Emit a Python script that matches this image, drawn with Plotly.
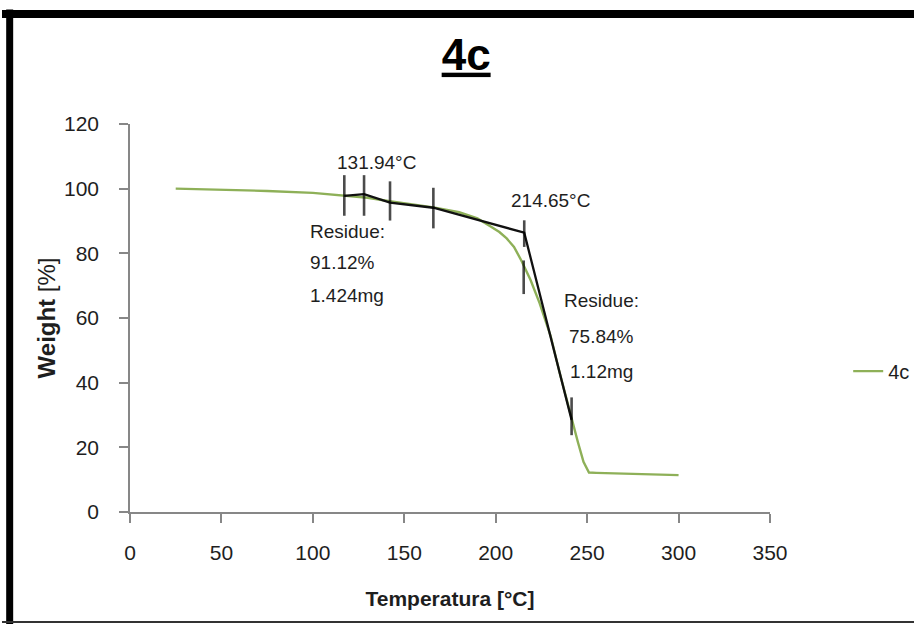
import plotly.graph_objects as go

# TGA curve for sample 4c
temperature = [25, 50, 75, 100, 117, 130, 142, 155, 166, 180, 190, 197, 202, 206,
               210, 214, 219, 224, 230, 235, 241, 245, 248, 251, 255, 270, 285, 300]
weight = [100.0, 99.7, 99.3, 98.7, 97.9, 97.2, 96.1, 95.1, 94.2, 92.7, 90.8, 88.4,
          86.6, 84.6, 82.0, 77.8, 71.8, 64.6, 54.5, 43.0, 29.8, 21.5, 15.5, 12.2,
          12.1, 11.9, 11.7, 11.4]

# Onset construction (tangent lines)
tangent_temp = [117.2, 128.0, 142.2, 165.9, 215.6, 241.5]
tangent_weight = [97.8, 98.3, 95.7, 94.1, 86.4, 28.5]

# Cursor marks placed on the curve
cursor_temp = [117.2, 128.0, 142.2, 165.9, 215.6, 215.3, 241.5]
cursor_weight = [97.9, 97.9, 96.2, 94.0, 86.1, 72.6, 29.6]

# Text annotations
onset_labels = ["131.94°C", "214.65°C"]
onset_temp = [134.9, 230.1]
onset_weight = [108.1, 96.2]

residue1_lines = ["Residue:", "91.12%", "1.424mg"]
residue1_temp = 97.5
residue1_weight = [86.9, 77.2, 67.1]

residue2_lines = ["Residue:", "75.84%", "1.12mg"]
residue2_temp = 258.1
residue2_weight = [65.3, 54.4, 43.5]

x_ticks = [0, 50, 100, 150, 200, 250, 300, 350]
y_ticks = [0, 20, 40, 60, 80, 100, 120]

FONT = "Liberation Sans, Arial, sans-serif"
TEXT = "#1e1e1e"
AXIS = "#878787"

fig = go.Figure()

fig.add_trace(go.Scatter(
    x=temperature, y=weight, mode="lines", name="4c",
    line=dict(color="#8EB058", width=2.4),
))

fig.add_trace(go.Scatter(
    x=tangent_temp, y=tangent_weight, mode="lines", showlegend=False,
    line=dict(color="#111111", width=2.3),
))

cursor_sizes = [29, 29, 28, 29, 19, 24, 27]
fig.add_trace(go.Scatter(
    x=cursor_temp, y=cursor_weight, mode="markers", showlegend=False,
    marker=dict(symbol="line-ns", size=cursor_sizes, color="#000000",
                line=dict(color="#000000", width=2.6)),
))

annotations = []
for t, x, y in zip(onset_labels, onset_temp, onset_weight):
    annotations.append(dict(x=x, y=y, text=t, xref="x", yref="y", showarrow=False,
                            xanchor="center", yanchor="middle",
                            font=dict(family=FONT, size=19, color=TEXT)))
for t, y in zip(residue1_lines, residue1_weight):
    annotations.append(dict(x=residue1_temp, y=y, text=t, xref="x", yref="y",
                            showarrow=False, xanchor="left", yanchor="middle",
                            font=dict(family=FONT, size=19, color=TEXT)))
for t, y in zip(residue2_lines, residue2_weight):
    annotations.append(dict(x=residue2_temp, y=y, text=t, xref="x", yref="y",
                            showarrow=False, xanchor="center", yanchor="middle",
                            font=dict(family=FONT, size=19, color=TEXT)))

# Frame around the chart
frame = [
    dict(type="line", xref="paper", yref="paper", x0=-0.188, x1=-0.188, y0=-0.30, y1=1.295,
         line=dict(color="black", width=7)),
    dict(type="line", xref="paper", yref="paper", x0=-0.20, x1=1.25, y0=1.2835, y1=1.2835,
         line=dict(color="black", width=8)),
    dict(type="line", xref="paper", yref="paper", x0=-0.20, x1=1.25, y0=-0.2835, y1=-0.2835,
         line=dict(color="#333333", width=2)),
]

fig.update_layout(
    width=914, height=624,
    margin=dict(l=130, r=144, t=124, b=112, autoexpand=False),
    paper_bgcolor="white", plot_bgcolor="white",
    title=dict(text="<u><b>4c</b></u>", x=0.51, xanchor="center", y=0.913, yanchor="middle",
               yref="container",
               font=dict(family="Liberation Sans Narrow, Liberation Sans, Arial", size=44,
                         color="black")),
    xaxis=dict(range=[0, 350], tickvals=x_ticks, showgrid=False, zeroline=False,
               showline=True, linecolor=AXIS, linewidth=1.5,
               ticks="outside", ticklen=9, tickcolor=AXIS, tickwidth=1.5,
               ticklabelstandoff=12,
               tickfont=dict(family=FONT, size=21, color=TEXT),
               title=dict(text="<b>Temperatura [°C]</b>", standoff=28,
                          font=dict(family=FONT, size=21, color=TEXT))),
    yaxis=dict(range=[0, 120], tickvals=y_ticks, showgrid=False, zeroline=False,
               showline=True, linecolor=AXIS, linewidth=1.5,
               ticks="outside", ticklen=9, tickcolor=AXIS, tickwidth=1.5,
               ticklabelstandoff=16,
               tickfont=dict(family=FONT, size=21, color=TEXT),
               title=dict(text="<b>Weight</b> [%]", standoff=2,
                          font=dict(family=FONT, size=24, color=TEXT))),
    legend=dict(xref="container", x=0.928, xanchor="left", y=0.363, yanchor="middle",
                font=dict(family=FONT, size=20, color=TEXT),
                bgcolor="rgba(0,0,0,0)"),
    annotations=annotations,
    shapes=frame,
    showlegend=True,
)

fig.write_html("out.html")
